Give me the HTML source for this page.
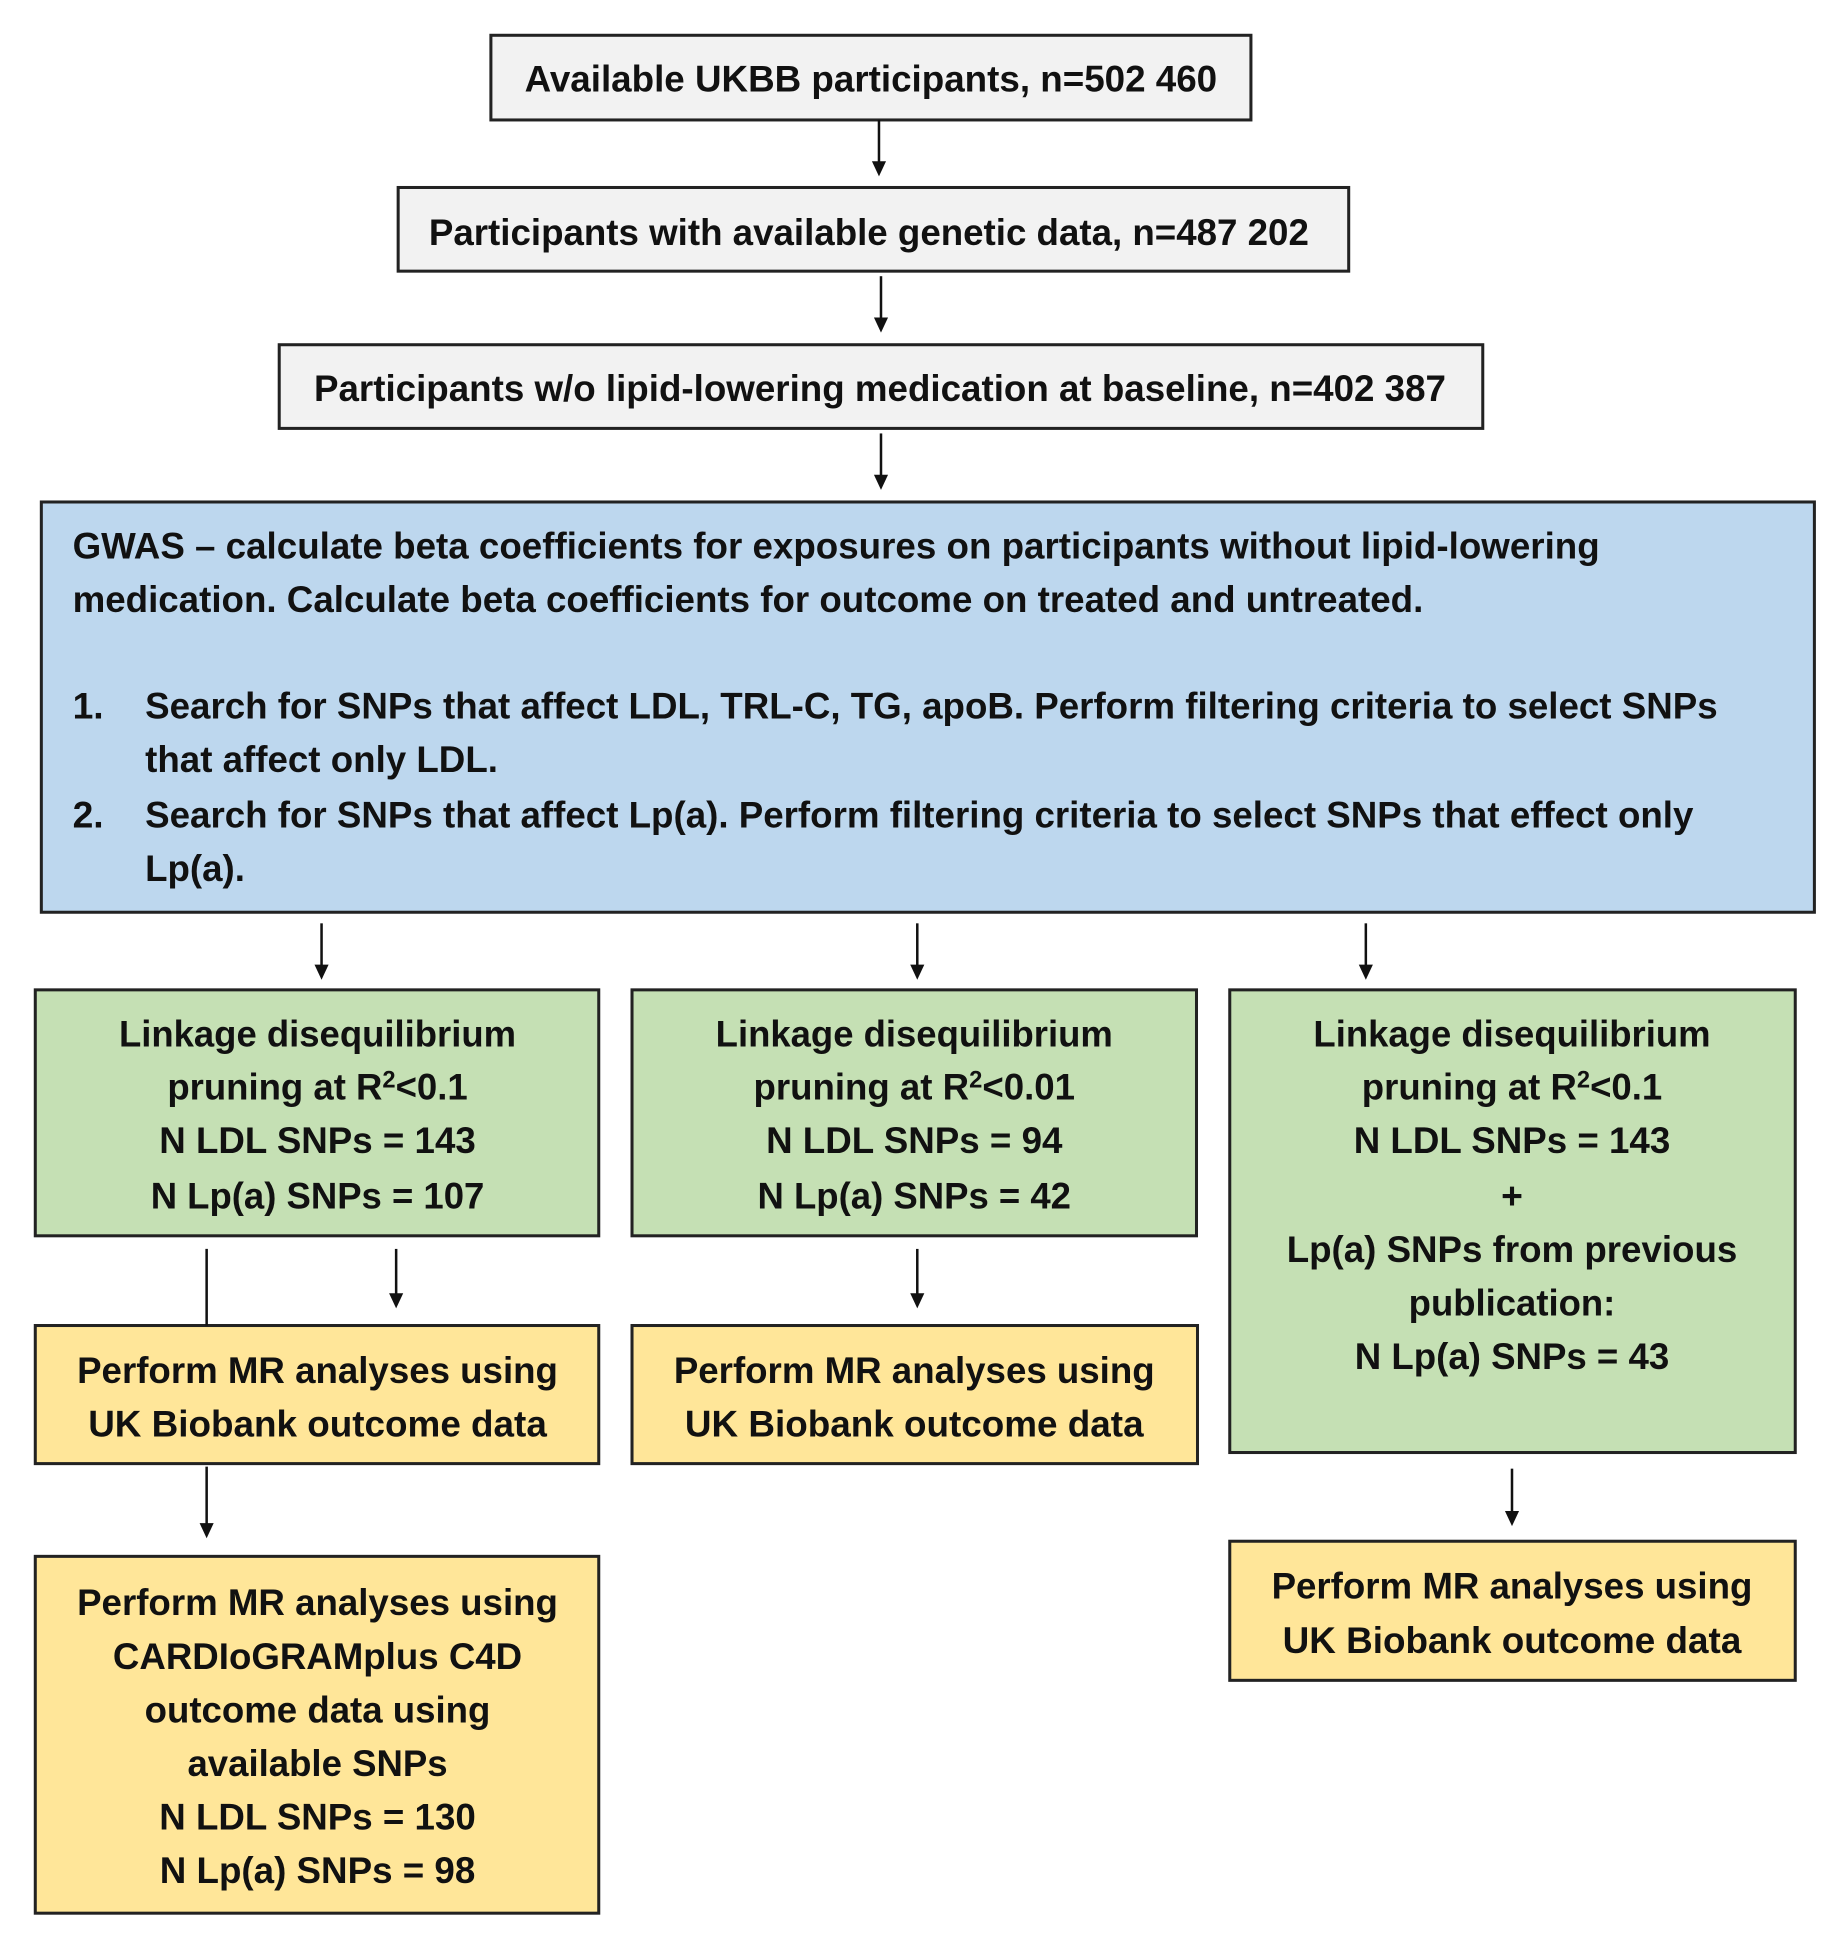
<!DOCTYPE html>
<html><head><meta charset="utf-8"><style>
html,body{margin:0;padding:0;background:#fff;}
svg{display:block}
text{font-family:"Liberation Sans Narrow","Liberation Sans",sans-serif;font-weight:bold;font-size:37px;fill:#111;}
</style></head><body>
<svg width="1828" height="1952" viewBox="0 0 1828 1952" xmlns="http://www.w3.org/2000/svg">
<g transform="scale(1.008)">
<g stroke="#222" stroke-width="3">
<rect x="487" y="35" width="754" height="84" fill="#f2f2f2"/>
<rect x="395" y="186" width="943" height="83" fill="#f2f2f2"/>
<rect x="277" y="342" width="1194" height="83" fill="#f2f2f2"/>
<rect x="41" y="498" width="1759" height="407" fill="#bdd7ee"/>
<rect x="35" y="982" width="559" height="244" fill="#c5e0b4"/>
<rect x="627" y="982" width="560" height="244" fill="#c5e0b4"/>
<rect x="1220" y="982" width="561" height="459" fill="#c5e0b4"/>
<rect x="35" y="1315" width="559" height="137" fill="#ffe699"/>
<rect x="627" y="1315" width="561" height="137" fill="#ffe699"/>
<rect x="1220" y="1529" width="561" height="138" fill="#ffe699"/>
<rect x="35" y="1544" width="559" height="354" fill="#ffe699"/>
</g>
<g stroke="#111" stroke-width="2.5">
<line x1="872" y1="119" x2="872" y2="165"/>
<line x1="874" y1="274" x2="874" y2="320"/>
<line x1="874" y1="430" x2="874" y2="476"/>
<line x1="319" y1="916" x2="319" y2="962"/>
<line x1="910" y1="916" x2="910" y2="962"/>
<line x1="1355" y1="916" x2="1355" y2="962"/>
<line x1="393" y1="1239" x2="393" y2="1288"/>
<line x1="910" y1="1239" x2="910" y2="1288"/>
<line x1="205" y1="1455" x2="205" y2="1516"/>
<line x1="1500" y1="1457" x2="1500" y2="1504"/>
<line x1="205" y1="1239" x2="205" y2="1315"/>
</g>
<g fill="#111">
<polygon points="865,160 879,160 872,175"/>
<polygon points="867,315 881,315 874,330"/>
<polygon points="867,471 881,471 874,486"/>
<polygon points="312,957 326,957 319,972"/>
<polygon points="903,957 917,957 910,972"/>
<polygon points="1348,957 1362,957 1355,972"/>
<polygon points="386,1283 400,1283 393,1298"/>
<polygon points="903,1283 917,1283 910,1298"/>
<polygon points="198,1511 212,1511 205,1526"/>
<polygon points="1493,1499 1507,1499 1500,1514"/>
</g>

<g text-anchor="middle">
<text x="864" y="91" textLength="687" lengthAdjust="spacingAndGlyphs">Available UKBB participants, n=502 460</text>
<text x="862" y="243" textLength="873" lengthAdjust="spacingAndGlyphs">Participants with available genetic data, n=487 202</text>
<text x="873" y="398" textLength="1123" lengthAdjust="spacingAndGlyphs">Participants w/o lipid-lowering medication at baseline, n=402 387</text>
</g>
<g>
<text x="72" y="554" textLength="1515" lengthAdjust="spacingAndGlyphs">GWAS – calculate beta coefficients for exposures on participants without lipid-lowering</text>
<text x="72" y="607" textLength="1340" lengthAdjust="spacingAndGlyphs">medication. Calculate beta coefficients for outcome on treated and untreated.</text>
<text x="72" y="713">1.</text>
<text x="144" y="713" textLength="1560" lengthAdjust="spacingAndGlyphs">Search for SNPs that affect LDL, TRL-C, TG, apoB. Perform filtering criteria to select SNPs</text>
<text x="144" y="766" textLength="350" lengthAdjust="spacingAndGlyphs">that affect only LDL.</text>
<text x="72" y="821">2.</text>
<text x="144" y="821" textLength="1536" lengthAdjust="spacingAndGlyphs">Search for SNPs that affect Lp(a). Perform filtering criteria to select SNPs that effect only</text>
<text x="144" y="874" textLength="99" lengthAdjust="spacingAndGlyphs">Lp(a).</text>
</g>
<g text-anchor="middle">
<text x="315" y="1038" textLength="394" lengthAdjust="spacingAndGlyphs">Linkage disequilibrium</text>
<text x="315" y="1091" textLength="298" lengthAdjust="spacingAndGlyphs">pruning at R<tspan font-size="24" dy="-12">2</tspan><tspan dy="12">&lt;0.1</tspan></text>
<text x="315" y="1144" textLength="314" lengthAdjust="spacingAndGlyphs">N LDL SNPs = 143</text>
<text x="315" y="1199" textLength="331" lengthAdjust="spacingAndGlyphs">N Lp(a) SNPs = 107</text>

<text x="907" y="1038" textLength="394" lengthAdjust="spacingAndGlyphs">Linkage disequilibrium</text>
<text x="907" y="1091" textLength="319" lengthAdjust="spacingAndGlyphs">pruning at R<tspan font-size="24" dy="-12">2</tspan><tspan dy="12">&lt;0.01</tspan></text>
<text x="907" y="1144" textLength="294" lengthAdjust="spacingAndGlyphs">N LDL SNPs = 94</text>
<text x="907" y="1199" textLength="311" lengthAdjust="spacingAndGlyphs">N Lp(a) SNPs = 42</text>

<text x="1500" y="1038" textLength="394" lengthAdjust="spacingAndGlyphs">Linkage disequilibrium</text>
<text x="1500" y="1091" textLength="298" lengthAdjust="spacingAndGlyphs">pruning at R<tspan font-size="24" dy="-12">2</tspan><tspan dy="12">&lt;0.1</tspan></text>
<text x="1500" y="1144" textLength="314" lengthAdjust="spacingAndGlyphs">N LDL SNPs = 143</text>
<text x="1500" y="1199">+</text>
<text x="1500" y="1252" textLength="447" lengthAdjust="spacingAndGlyphs">Lp(a) SNPs from previous</text>
<text x="1500" y="1305" textLength="205" lengthAdjust="spacingAndGlyphs">publication:</text>
<text x="1500" y="1358" textLength="312" lengthAdjust="spacingAndGlyphs">N Lp(a) SNPs = 43</text>

<text x="315" y="1372" textLength="477" lengthAdjust="spacingAndGlyphs">Perform MR analyses using</text>
<text x="315" y="1425" textLength="455" lengthAdjust="spacingAndGlyphs">UK Biobank outcome data</text>
<text x="907" y="1372" textLength="477" lengthAdjust="spacingAndGlyphs">Perform MR analyses using</text>
<text x="907" y="1425" textLength="455" lengthAdjust="spacingAndGlyphs">UK Biobank outcome data</text>
<text x="1500" y="1586" textLength="477" lengthAdjust="spacingAndGlyphs">Perform MR analyses using</text>
<text x="1500" y="1640" textLength="455" lengthAdjust="spacingAndGlyphs">UK Biobank outcome data</text>

<text x="315" y="1602" textLength="477" lengthAdjust="spacingAndGlyphs">Perform MR analyses using</text>
<text x="315" y="1656" textLength="406" lengthAdjust="spacingAndGlyphs">CARDIoGRAMplus C4D</text>
<text x="315" y="1709" textLength="343" lengthAdjust="spacingAndGlyphs">outcome data using</text>
<text x="315" y="1762" textLength="258" lengthAdjust="spacingAndGlyphs">available SNPs</text>
<text x="315" y="1815" textLength="314" lengthAdjust="spacingAndGlyphs">N LDL SNPs = 130</text>
<text x="315" y="1868" textLength="313" lengthAdjust="spacingAndGlyphs">N Lp(a) SNPs = 98</text>
</g>
</g>
</svg>
</body></html>
